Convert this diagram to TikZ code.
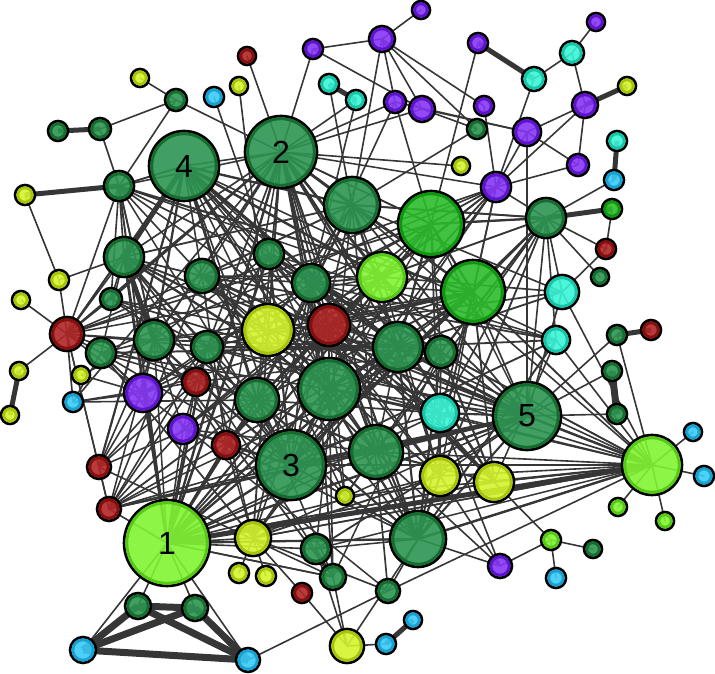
\documentclass[tikz,border=0pt]{standalone}
\usepackage{fontspec}
\setmainfont{Liberation Sans}
\pgfdeclarelayer{bg}
\pgfsetlayers{bg,main}
\definecolor{cG}{HTML}{2E9552}\definecolor{cGd}{HTML}{146C2E}
\definecolor{cB}{HTML}{2CBC2C}\definecolor{cBd}{HTML}{0E960E}
\definecolor{cL}{HTML}{80F432}\definecolor{cLd}{HTML}{56C818}
\definecolor{cY}{HTML}{D4F42E}\definecolor{cYd}{HTML}{A9C20C}
\definecolor{cR}{HTML}{B02626}\definecolor{cRd}{HTML}{850E0E}
\definecolor{cP}{HTML}{8636F6}\definecolor{cPd}{HTML}{5E12CC}
\definecolor{cT}{HTML}{3AF5D4}\definecolor{cTd}{HTML}{18C4A8}
\definecolor{cS}{HTML}{3ACBF6}\definecolor{cSd}{HTML}{18A0D0}
\definecolor{edgec}{HTML}{363636}
\tikzset{
  vtx/.style={circle, draw=black, line width=2.6pt, inner sep=0pt, fill opacity=0.9},
  edg/.style={draw=edgec, line width=1.6pt},
  thk/.style={draw=edgec, line width=5pt},
  lbl/.style={font=\fontsize{32}{32}\selectfont, text=black}
}
\def\nodelist{y1/140/78/9/Y/0, g1/176/100/11/G/0, g2/58/131/10/G/0, g3/100/129/11/G/0,
s1/214/97/10/S/0, y2/239/86/9/Y/0, r1/247/56/9/R/0, p1/313/49/10/P/0, t1/329/84/10/T/0,
t2/356/100/10/T/0, h4/184/166/35/G/1, h2/281/152/36/G/1, g4/119/186/15/G/0.45,
y3/25/195/10/Y/0, g5/124/257/20/G/0.55, y4/59/280/10/Y/0, g6/111/299/11/G/0.3,
y5/21/300/9/Y/0, r2/67/334/17/R/0.35, g7/202/276/17/G/0.5, g8/269/254/15/G/0.45,
g9/311/283/19/G/0.55, y6/268/330/26/Y/0.55, r3/329/325/21/R/0.5, g10/352/205/28/G/0.7,
p2/421/10/9/P/0, p3/382/39/13/P/0, p4/478/43/10/P/0, t3/534/79/12/T/0, t4/572/53/12/T/0,
p5/596/22/9/P/0, y7/627/86/9/Y/0, p6/585/105/13/P/0, p7/395/102/11/P/0, p8/422/109/13/P/0,
p9/484/106/10/P/0, g11/477/129/10/G/0, p10/527/132/14/P/0, p11/578/165/11/P/0,
y8/461/166/9/Y/0, p12/496/187/15/P/0.3, t5/617/141/10/T/0, s2/614/180/10/S/0,
g12/546/218/20/G/0.5, b0/612/209/10/B/0, r4/606/249/10/R/0, g14/600/277/9/G/0,
b1/431/224/33/B/0.7, l1/382/277/25/L/0.55, b2/473/292/32/B/0.7, t6/562/292/17/T/0.35,
t7/556/340/14/T/0.35, g15/617/335/10/G/0, r5/651/330/10/R/0, g16/398/347/25/G/0.65,
g17/441/352/16/G/0.5, g18/612/371/10/G/0, g19/617/414/10/G/0, h5/527/416/34/G/1,
t8/440/413/19/T/0.5, g20/376/452/27/G/0.65, y9/440/476/20/Y/0.5, y10/494/482/20/Y/0.5,
l2/652/465/30/L/0.8, s3/693/432/9/S/0, s4/704/476/10/S/0, l3/618/507/9/L/0,
l4/665/521/9/L/0, g21/418/539/28/G/0.6, l5/551/540/10/L/0, g22/593/549/9/G/0,
p13/500/566/12/P/0, s5/556/578/10/S/0, g23/388/591/12/G/0.25, s6/413/620/9/S/0,
s7/386/644/10/S/0, y11/347/646/17/Y/0, y12/19/371/9/Y/0, y13/10/415/9/Y/0,
g24/101/353/15/G/0.3, y14/81/375/9/Y/0, s8/73/402/10/S/0.2, p14/143/393/19/P/0.45,
p15/183/429/15/P/0.35, r6/196/382/14/R/0.35, r7/226/445/14/R/0.35, r8/99/467/12/R/0.3,
r9/109/509/12/R/0.3, h1/167/543/43/L/1, y15/253/538/18/Y/0.45, y16/239/573/10/Y/0,
y17/266/576/10/Y/0, g25/316/549/15/G/0.3, g26/333/577/13/G/0.3, r10/302/593/10/R/0,
g27/138/606/13/G/0, g28/195/608/13/G/0, s9/83/650/13/S/0, s10/248/660/12/S/0,
y18/345/496/9/Y/0.2, h3/291/465/35/G/1, g29/154/340/20/G/0.55, g30/207/347/16/G/0.5,
g31/257/400/22/G/0.6, g32/329/389/31/G/0.7}
\def\thinedges{y1/g1, g1/g3, g3/g4, g1/g4, g1/h2, s1/g8, y2/y6, r1/h2, p1/h2, p1/p3, p1/p8,
t1/g10, t2/g9, t2/h2, g4/h4, y3/y4, y4/g5, y4/r2, y5/r2, g4/r2, g4/g5, g4/g29, g4/g6, g4/g7,
p2/p3, p3/g10, p3/p7, p3/p8, p3/p9, p3/g11, p4/b1, t3/t4, t4/p5, t4/p6, p6/p10, p6/p11,
p6/p12, t3/p12, p10/p12, p10/h5, p10/p8, p10/p7, p10/p11, p12/p11, p12/b2, p12/l1, p12/g12,
p12/h3, g12/s2, g12/r4, g12/g14, b0/r4, r4/t6, g11/p8, g11/g10, y8/h2, p8/h2, p7/g9, p9/p12,
p7/b1, h2/p7, h2/b1, h2/g10, g12/b1, g12/b2, g12/h5, g12/t6, g12/g10, g12/t7, g12/g17,
g15/l2, g15/h5, g18/h5, g19/h5, l2/s3, l2/s4, l2/l3, l2/l4, l2/h5, l2/y9, l2/y10, l2/g20,
l2/g21, l2/h3, l2/t8, l2/g16, l2/g17, l2/t7, l2/g23, l2/y15, l2/g32, l2/t6, y10/l5, l5/g22,
l5/s5, l5/p13, y9/p13, p13/g20, p13/g21, p13/t8, g23/g21, s7/y11, y11/g26, y11/g25, y11/r10,
y11/g21, s10/g23, y12/r2, r8/r9, h1/g27, h1/g28, h1/s9, h1/s10, y15/y16, y15/y17, r10/y15,
g25/g26, r8/p14, r8/g29, r8/h4, r8/g31, r9/h1, r9/p15, r9/g30, r9/r6, r9/g7, r8/g30, r8/r6,
s8/p14, s8/r6, s8/g31, y14/p14, y14/g29, g24/r2, g24/g29, g24/p14, y18/h3, y18/g20, y18/g21,
g6/r2, g6/g5, r2/g29, r2/h4, r2/g7, r2/p14, r2/g30, h1/p14, h1/p15, h1/r7, h1/g31, h1/y15,
h1/g25, h1/g26, h1/g20, h1/g21, h1/y9, h1/y10, h1/g16, h1/h5, h1/t8, h1/r6}
\def\thickedges{g2/g3, t1/t2, g4/y3, p4/t3, p6/y7, g12/b0, t5/s2, g15/r5,
s6/s7, y12/y13, g5/g29, h1/l2, h4/g5}
\def\trianedges{g27/g28, g27/s9, g27/s10, g28/s9, g28/s10, s9/s10, g18/g19}
\begin{document}
\begin{tikzpicture}[x=1pt,y=-1pt]
\useasboundingbox (0,0) rectangle (715,674);
\foreach \nn/\nx/\ny/\nr/\nc/\nw in \nodelist {
  \pgfmathsetmacro\dd{2*\nr}
  \pgfmathsetmacro\ri{\nr-2.8}
  \edef\fc{c\nc}\edef\rc{c\nc d}
  \node[vtx, minimum size=\dd pt, fill=\fc] (\nn) at (\nx,\ny) {};
  \draw[draw=\rc, line width=2.8pt] (\nx,\ny) circle[radius=\ri pt];
}
\node[lbl] at (h1) {1};
\node[lbl] at (h2) {2};
\node[lbl] at (h3) {3};
\node[lbl] at (h4) {4};
\node[lbl] at (h5) {5};
\begin{pgfonlayer}{bg}
\foreach \a/\b in \thinedges { \draw[edg] (\a.center) -- (\b.center); }
\foreach \a/\b in \thickedges { \draw[thk] (\a.center) -- (\b.center); }
\foreach \a/\b in \trianedges { \draw[edgec, line width=7pt] (\a.center) -- (\b.center); }
\pgfmathsetseed{7}
\foreach \a/\xa/\ya/\ra/\ca/\wa [count=\i] in \nodelist {
  \foreach \b/\xb/\yb/\rb/\cb/\wb [count=\j] in \nodelist {
    \ifnum\j>\i
      \pgfmathsetmacro\pp{\wa*\wb}
      \ifdim\pp pt>0pt
        \pgfmathsetmacro\dst{veclen(\xb-\xa,\yb-\ya)}
        \pgfmathsetmacro\pr{1.55*\pp*max(0.35,1-\dst/700)}
        \pgfmathsetmacro\uu{rnd}
        \ifdim\uu pt<\pr pt
          \pgfmathsetmacro\lw{1.5+3.2*\pp*rnd*rnd}
          \draw[edgec, line width=\lw pt] (\a.center) -- (\b.center);
        \fi
      \fi
    \fi
  }
}
\end{pgfonlayer}
\end{tikzpicture}
\end{document}
